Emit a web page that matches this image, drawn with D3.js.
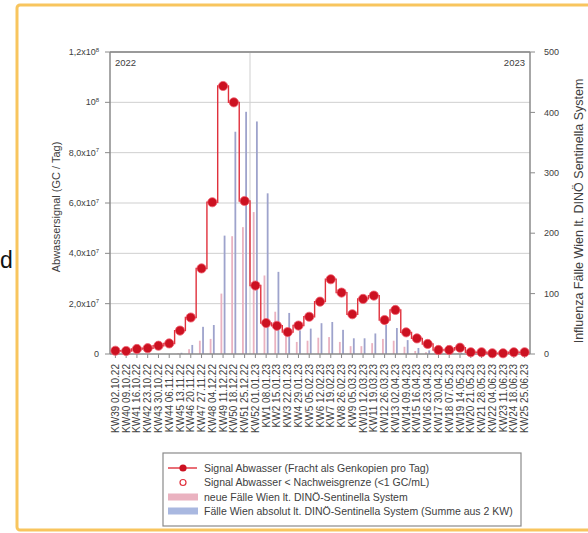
<!DOCTYPE html>
<html><head><meta charset="utf-8">
<script src="https://cdn.jsdelivr.net/npm/d3@7"></script>
<style>body{margin:0;background:#fff}svg{display:block}text{font-family:"Liberation Sans",Arial,sans-serif;fill:#404040}</style>
</head><body>
<script>
const categories = ["KW39 02.10.22","KW40 09.10.22","KW41 16.10.22","KW42 23.10.22","KW43 30.10.22","KW44 06.11.22","KW45 13.11.22","KW46 20.11.22","KW47 27.11.22","KW48 04.12.22","KW49 11.12.22","KW50 18.12.22","KW51 25.12.22","KW52 01.01.23","KW1 08.01.23","KW2 15.01.23","KW3 22.01.23","KW4 29.01.23","KW5 05.02.23","KW6 12.02.23","KW7 19.02.23","KW8 26.02.23","KW9 05.03.23","KW10 12.03.23","KW11 19.03.23","KW12 26.03.23","KW13 02.04.23","KW14 09.04.23","KW15 16.04.23","KW16 23.04.23","KW17 30.04.23","KW18 07.05.23","KW19 14.05.23","KW20 21.05.23","KW21 28.05.23","KW22 04.06.23","KW23 11.06.23","KW24 18.06.23","KW25 25.06.23"];
const signal = [1.3e6,1.2e6,2.0e6,2.3e6,3.3e6,4.2e6,9.3e6,1.45e7,3.4e7,6.03e7,1.065e8,1.0e8,6.08e7,2.72e7,1.23e7,1.12e7,8.7e6,1.13e7,1.48e7,2.08e7,2.97e7,2.44e7,1.58e7,2.19e7,2.32e7,1.35e7,1.75e7,8.6e6,6.2e6,4.0e6,1.6e6,1.6e6,2.5e6,7e5,7e5,3e5,3e5,7e5,7e5];
const newCases = [0,0,0,0,0,0,1,8,22,25,100,195,210,235,130,70,35,20,22,27,28,20,13,13,18,25,22,12,5,3,2,1,1,1,0,0,0,0,0];
const absCases = [0,0,0,0,0,0,2,15,45,48,196,368,401,385,266,136,68,39,42,51,53,40,26,26,34,48,43,23,10,6,4,3,2,1,1,0,0,0,0];
const leftTicks = [0,2e7,4e7,6e7,8e7,1e8,1.2e8];
const leftTickMant = ["0","2,0x10","4,0x10","6,0x10","8,0x10","10","1,2x10"];
const leftTickExp = ["","7","7","7","7","8","8"];
const rightTicks = [0,100,200,300,400,500];
const yearLabels = ["2022","2023"];
const legendLabels = ["Signal Abwasser (Fracht als Genkopien pro Tag)","Signal Abwasser < Nachweisgrenze (<1 GC/mL)","neue Fälle Wien lt. DINÖ-Sentinella System","Fälle Wien absolut lt. DINÖ-Sentinella System (Summe aus 2 KW)"];
const leftTitle = "Abwassersignal (GC / Tag)";
const rightTitle = "Influenza Fälle Wien lt. DINÖ Sentinella System";

const W = 588, H = 533;
const L = 110, R = 530, T = 52, B = 354;
const RED = "#e0303c", DOT = "#cc1121", PINK = "#eab2c0", BLUE = "#9ea3cc";

const svg = d3.select("body").append("svg").attr("width", W).attr("height", H);

// orange frame
svg.append("rect").attr("x",17).attr("y",5).attr("width",600).attr("height",525).attr("rx",3)
  .attr("fill","none").attr("stroke","#f8c55e").attr("stroke-width",3);
svg.append("text").attr("x",0).attr("y",268).style("font-size","23px").style("fill","#111").text("d");

const x = d3.scaleBand().domain(categories).range([L,R]).padding(0);
const cx = d => x(d) + x.bandwidth()/2;
const yL = d3.scaleLinear().domain([0,1.2e8]).range([B,T]);
const yR = d3.scaleLinear().domain([0,500]).range([B,T]);

// grid
svg.append("g").selectAll("line").data(leftTicks.slice(1,-1)).join("line")
  .attr("x1",L).attr("x2",R).attr("y1",d=>yL(d)).attr("y2",d=>yL(d))
  .attr("stroke","#cfcfcf").attr("stroke-width",1);
// year divider
svg.append("line").attr("x1",x(categories[13])).attr("x2",x(categories[13])).attr("y1",T).attr("y2",B)
  .attr("stroke","#cfcfcf").attr("stroke-width",1);

// bars
svg.append("g").selectAll("rect").data(categories).join("rect")
  .attr("x",d=>cx(d)-2.6).attr("width",1.8)
  .attr("y",(d,i)=>yR(newCases[i])).attr("height",(d,i)=>B-yR(newCases[i]))
  .attr("fill",PINK);
svg.append("g").selectAll("rect").data(categories).join("rect")
  .attr("x",d=>cx(d)+0.6).attr("width",1.8)
  .attr("y",(d,i)=>yR(absCases[i])).attr("height",(d,i)=>B-yR(absCases[i]))
  .attr("fill",BLUE);

// axes
const axisColor = "#8a8a8a";
svg.append("line").attr("x1",L).attr("x2",R).attr("y1",T).attr("y2",T).attr("stroke","#9a9a9a").attr("stroke-width",2);
svg.append("line").attr("x1",L).attr("x2",L).attr("y1",T).attr("y2",B).attr("stroke",axisColor).attr("stroke-width",1.5);
svg.append("line").attr("x1",R).attr("x2",R).attr("y1",T).attr("y2",B).attr("stroke",axisColor).attr("stroke-width",1.5);
svg.append("line").attr("x1",L).attr("x2",R).attr("y1",B).attr("y2",B).attr("stroke",axisColor).attr("stroke-width",1.5);

// left ticks
const lt = svg.append("g").selectAll("g").data(leftTicks).join("g").attr("transform",d=>`translate(0,${yL(d)})`);
lt.append("line").attr("x1",L-5).attr("x2",L).attr("stroke",axisColor);
const ltt = lt.append("text").attr("x",L-11).attr("dy","0.35em").attr("text-anchor","end").style("font-size","9px");
ltt.append("tspan").text((d,i)=>leftTickMant[i]);
ltt.append("tspan").attr("dy","-3.5").style("font-size","6px").text((d,i)=>leftTickExp[i]);

// right ticks
const rt = svg.append("g").selectAll("g").data(rightTicks).join("g").attr("transform",d=>`translate(0,${yR(d)})`);
rt.append("line").attr("x1",R).attr("x2",R+5).attr("stroke",axisColor);
rt.append("text").attr("x",R+14).attr("dy","0.35em").style("font-size","9px").text(d=>d);

// x ticks & labels
const xt = svg.append("g").selectAll("g").data(categories).join("g").attr("transform",d=>`translate(${cx(d)},${B})`);
xt.append("line").attr("y1",0).attr("y2",4).attr("stroke",axisColor);
xt.append("text").attr("transform","translate(0,10) rotate(-90)").attr("dy","0.35em")
  .attr("text-anchor","end").style("font-size","10px").text(d=>d);

// year labels
svg.append("text").attr("x",L+5).attr("y",T+14).style("font-size","9.5px").text(yearLabels[0]);
svg.append("text").attr("x",R-5).attr("y",T+14).attr("text-anchor","end").style("font-size","9.5px").text(yearLabels[1]);

// titles
svg.append("text").attr("transform",`translate(60,${(T+B)/2+4}) rotate(-90)`).attr("text-anchor","middle")
  .style("font-size","11px").text(leftTitle);
svg.append("text").attr("transform",`translate(583,${(T+B)/2+8}) rotate(-90)`).attr("text-anchor","middle")
  .style("font-size","12.5px").text(rightTitle);

// signal line
const line = d3.line().curve(d3.curveStep).x(d=>cx(d)).y((d,i)=>yL(signal[i]));
svg.append("path").datum(categories).attr("d",line).attr("fill","none").attr("stroke",RED).attr("stroke-width",1.4);
svg.append("g").selectAll("circle").data(categories).join("circle")
  .attr("cx",d=>cx(d)).attr("cy",(d,i)=>yL(signal[i])).attr("r",4.6)
  .attr("fill",DOT).attr("stroke","#f06070").attr("stroke-width",0.8);

// legend
const lg = svg.append("g");
lg.append("rect").attr("x",163).attr("y",453).attr("width",358).attr("height",73).attr("fill","#fff").attr("stroke","#8a8a8a").attr("stroke-width",1.2);
const ly = [468,482.5,497,511];
lg.append("line").attr("x1",168).attr("x2",197).attr("y1",ly[0]).attr("y2",ly[0]).attr("stroke",RED).attr("stroke-width",1.4);
lg.append("circle").attr("cx",183).attr("cy",ly[0]).attr("r",3.6).attr("fill",DOT);
lg.append("circle").attr("cx",183).attr("cy",ly[1]).attr("r",3).attr("fill","#fff").attr("stroke",RED).attr("stroke-width",1.2);
lg.append("rect").attr("x",168).attr("y",ly[2]-3.5).attr("width",30).attr("height",7).attr("fill",PINK);
lg.append("rect").attr("x",168).attr("y",ly[3]-3.5).attr("width",30).attr("height",7).attr("fill","#a9b8e0");
lg.selectAll("text").data(legendLabels).join("text").attr("x",204).attr("y",(d,i)=>ly[i]).attr("dy","0.35em")
  .style("font-size","10.5px").text(d=>d);
</script>
</body></html>
